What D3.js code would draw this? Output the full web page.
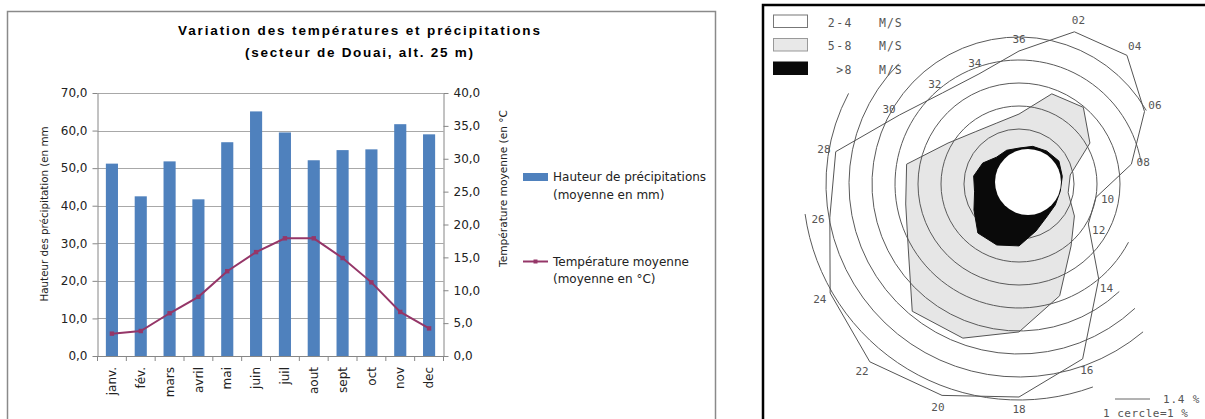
<!DOCTYPE html>
<html><head><meta charset="utf-8">
<script src="https://cdn.jsdelivr.net/npm/d3@7"></script>
<style>html,body{margin:0;padding:0;background:#fff;overflow:hidden}</style>
</head><body>
<svg id="c" width="1205" height="419"></svg>
<script>
// ---------- climate chart data ----------
const months = ["janv.","fév.","mars","avril","mai","juin","juil","aout","sept","oct","nov","dec"];
const precipitation = [51.2,42.5,51.8,41.7,56.9,65.1,59.5,52.1,54.8,55.0,61.7,59.0];
const temperature = [3.4,3.8,6.5,9.0,12.9,15.8,17.9,17.9,14.9,11.2,6.7,4.2];
const precipTicks = [0,10,20,30,40,50,60,70];
const tempTicks = [0,5,10,15,20,25,30,35,40];
const titleLines = ["Variation des températures et précipitations","(secteur de Douai, alt. 25 m)"];
const leftTitle = "Hauteur des précipitation (en mm";
const rightTitle = "Température moyenne (en °C";
const legendBar = ["Hauteur de précipitations","(moyenne en mm)"];
const legendLine = ["Température moyenne","(moyenne en °C)"];

// ---------- wind rose data (frequency, % ; 1 circle = 1 %) ----------
const directions = [20,40,60,80,100,120,140,160,180,200,220,240,260,280,300,320,340,360];
const dirLabels = ["02","04","06","08","10","12","14","16","18","20","22","24","26","28","30","32","34","36"];
const freq2to4 = [5.65,5.91,4.91,3.57,2.0,2.09,4.0,6.7,7.87,8.39,8.7,8.09,6.96,6.7,4.61,3.78,3.7,4.39];
const freq5to8 = [2.78,2.96,2.17,0.87,0.78,1.39,2.13,3.78,5.04,5.74,5.83,4.17,3.61,3.57,2.17,1.57,1.43,1.65];
const freqOver8 = [0.35,0.48,0.61,0.52,0.43,0.43,0.48,0.78,1.3,1.43,1.39,0.87,0.57,0.61,0.43,0.13,0.17,0.17];
const rings = [1,2,3,4,5,6,7,8];
const ringStart = [0,0,0,118,137,137,140,160];
const ringEnd = [360,360,360,440,420,315,298,262];
const windClasses = ["2-4","5-8",">8"];
const windUnit = "M/S";

const svg = d3.select("#c");
const fmt = v => d3.format(".1f")(v).replace(".", ",");
const FONT = "DejaVu Sans";

// ================= LEFT PANEL =================
svg.append("rect").attr("x",7.5).attr("y",11.5).attr("width",708).attr("height",430)
  .attr("fill","#fff").attr("stroke","#8a8a8a").attr("stroke-width",1.5);

const tY = [35,57], tL = [362,228];
titleLines.forEach((t,i)=>{
  svg.append("text").attr("x",359).attr("y",tY[i]).attr("text-anchor","middle")
    .attr("font-family","Liberation Sans").attr("font-weight","bold").attr("font-size",13.5)
    .attr("fill","#000").attr("textLength",tL[i]).attr("lengthAdjust","spacing").text(t);
});

const x = d3.scaleBand().domain(months).range([97.5,443.5]).paddingInner(0.58).paddingOuter(0.29);
const yL = d3.scaleLinear().domain([0,70]).range([356,93]);
const yR = d3.scaleLinear().domain([0,40]).range([356,93]);

// gridlines
svg.append("g").selectAll("line").data(precipTicks.filter(d=>d>0)).join("line")
  .attr("x1",97.5).attr("x2",443.5).attr("y1",d=>Math.round(yL(d))+0.5).attr("y2",d=>Math.round(yL(d))+0.5)
  .attr("stroke","#a8a8a8").attr("stroke-width",1);

// bars
svg.append("g").selectAll("rect").data(precipitation).join("rect")
  .attr("x",(d,i)=>x(months[i])).attr("width",x.bandwidth())
  .attr("y",d=>yL(d)).attr("height",d=>yL(0)-yL(d)).attr("fill","#4F81BD");

function styleAxis(g){
  g.selectAll("path,line").attr("stroke","#868686");
  g.selectAll("text").attr("font-family",FONT).attr("font-size",12).attr("fill","#222");
}
svg.append("g").attr("transform","translate(97.5,0)")
  .call(d3.axisLeft(yL).tickValues(precipTicks).tickFormat(fmt).tickSize(5).tickSizeOuter(0).tickPadding(5))
  .call(styleAxis);
svg.append("g").attr("transform","translate(443.5,0)")
  .call(d3.axisRight(yR).tickValues(tempTicks).tickFormat(fmt).tickSize(5).tickSizeOuter(0).tickPadding(5))
  .call(styleAxis);
const xAxis = svg.append("g").attr("transform","translate(0,356)")
  .call(d3.axisBottom(x).tickSize(0).tickSizeOuter(0).tickPadding(0))
  .call(styleAxis);
xAxis.selectAll(".tick text").attr("transform","rotate(-90)").attr("text-anchor","end")
  .attr("x",-11).attr("y",0).attr("dy","0.35em");
// category boundary ticks
const bounds = d3.range(months.length+1).map(k=>x.range()[0]+k*(x.range()[1]-x.range()[0])/months.length);
svg.append("g").selectAll("line").data(bounds).join("line")
  .attr("x1",d=>d).attr("x2",d=>d).attr("y1",356).attr("y2",361).attr("stroke","#868686");

// temperature line
const cxm = i => x(months[i]) + x.bandwidth()/2;
svg.append("path").datum(temperature)
  .attr("d", d3.line().x((d,i)=>cxm(i)).y(d=>yR(d)))
  .attr("fill","none").attr("stroke","#953668").attr("stroke-width",2);
svg.append("g").selectAll("rect").data(temperature).join("rect")
  .attr("x",(d,i)=>cxm(i)-2.2).attr("y",d=>yR(d)-2.2).attr("width",4.4).attr("height",4.4).attr("fill","#953668");

// axis titles
svg.append("text").attr("transform","translate(48,214) rotate(-90)").attr("text-anchor","middle")
  .attr("font-family",FONT).attr("font-size",10.5).attr("fill","#222")
  .attr("textLength",175).attr("lengthAdjust","spacingAndGlyphs").text(leftTitle);
svg.append("text").attr("transform","translate(507,188.5) rotate(-90)").attr("text-anchor","middle")
  .attr("font-family",FONT).attr("font-size",10.5).attr("fill","#222")
  .attr("textLength",157).attr("lengthAdjust","spacingAndGlyphs").text(rightTitle);

// legend
svg.append("rect").attr("x",523).attr("y",173).attr("width",25).attr("height",8).attr("fill","#4F81BD");
legendBar.forEach((t,i)=>svg.append("text").attr("x",553).attr("y",181+i*17.5)
  .attr("font-family",FONT).attr("font-size",12).attr("fill","#222").text(t));
svg.append("line").attr("x1",523).attr("x2",548).attr("y1",261.5).attr("y2",261.5)
  .attr("stroke","#953668").attr("stroke-width",2);
svg.append("rect").attr("x",533.5).attr("y",259.5).attr("width",4).attr("height",4).attr("fill","#953668");
legendLine.forEach((t,i)=>svg.append("text").attr("x",553).attr("y",265.5+i*17.5)
  .attr("font-family",FONT).attr("font-size",12).attr("fill","#222").text(t));

// ================= RIGHT PANEL (wind rose) =================
svg.append("rect").attr("x",763).attr("y",5).attr("width",470).attr("height",440)
  .attr("fill","#fff").attr("stroke","#000").attr("stroke-width",2.5);

const CX = 1019, CY = 184;
const r = d3.scaleLinear().domain([0,1]).range([32,55]);
const rose = svg.append("g").attr("transform",`translate(${CX},${CY})`);
const radial = vals => d3.lineRadial().curve(d3.curveLinearClosed)
  .angle((d,i)=>directions[i]*Math.PI/180).radius(d=>r(d))(vals);

// gray 5-8 area
rose.append("path").attr("d",radial(freq5to8)).attr("fill","#e6e6e6").attr("stroke","none");
// rings
rings.forEach((v,i)=>{
  const p = d3.path(), rr = r(v);
  const a0 = (ringStart[i]-90)*Math.PI/180, a1 = (ringEnd[i]-90)*Math.PI/180;
  p.moveTo(rr*Math.cos(a0), rr*Math.sin(a0));
  p.arc(0,0,rr,a0,a1);
  rose.append("path").attr("d",p.toString()).attr("fill","none").attr("stroke","#5a5a5a").attr("stroke-width",1);
});
// polygon outlines
rose.append("path").attr("d",radial(freq2to4)).attr("fill","none").attr("stroke","#555").attr("stroke-width",1);
rose.append("path").attr("d",radial(freq5to8)).attr("fill","none").attr("stroke","#555").attr("stroke-width",1);
// > 8 m/s
rose.append("path").attr("d",radial(freqOver8)).attr("fill","#0a0a0a").attr("stroke","#0a0a0a");
// calm circle
rose.append("circle").attr("cx",9).attr("cy",-2).attr("r",33).attr("fill","#fff");

// direction labels
rose.selectAll("text.dir").data(dirLabels).join("text").attr("class","dir")
  .attr("x",(d,i)=>(r(freq2to4[i])+12)*Math.sin(directions[i]*Math.PI/180))
  .attr("y",(d,i)=>-(r(freq2to4[i])+12)*Math.cos(directions[i]*Math.PI/180))
  .attr("dy","0.35em").attr("text-anchor","middle")
  .attr("font-family","DejaVu Sans Mono").attr("font-size",11).attr("fill","#555").text(d=>d);

// wind legend
const boxFill = ["#fff","#e8e8e8","#0a0a0a"], boxStroke = ["#777","#999","#0a0a0a"];
windClasses.forEach((c,i)=>{
  const yy = 15 + i*23.5;
  svg.append("rect").attr("x",773.5).attr("y",yy).attr("width",34).attr("height",12.5)
    .attr("fill",boxFill[i]).attr("stroke",boxStroke[i]).attr("stroke-width",1);
  svg.append("text").attr("x",853).attr("y",yy+11.5).attr("text-anchor","end")
    .attr("font-family","DejaVu Sans Mono").attr("font-size",11.5).attr("letter-spacing",1.5).attr("fill","#555").text(c);
  svg.append("text").attr("x",879).attr("y",yy+11.5)
    .attr("font-family","DejaVu Sans Mono").attr("font-size",11.5).attr("letter-spacing",1).attr("fill","#555").text(windUnit);
});
// scale note
svg.append("line").attr("x1",1115).attr("x2",1150).attr("y1",399).attr("y2",399).attr("stroke","#666");
svg.append("text").attr("x",1163).attr("y",403).attr("font-family","DejaVu Sans Mono").attr("font-size",11)
  .attr("letter-spacing",0.8).attr("fill","#555").text("1.4 %");
svg.append("text").attr("x",1103).attr("y",417).attr("font-family","DejaVu Sans Mono").attr("font-size",11)
  .attr("letter-spacing",0.5).attr("fill","#555").text("1 cercle=1 %");
</script>
</body></html>
